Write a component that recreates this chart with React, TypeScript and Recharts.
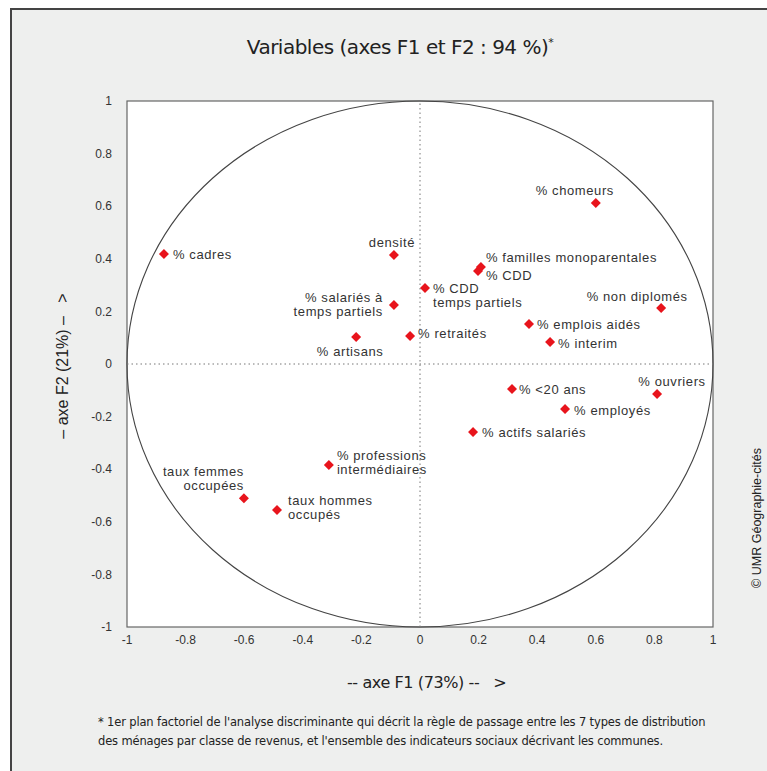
import { ReferenceArea, ReferenceLine, Scatter, ScatterChart, XAxis, YAxis } from "recharts";

// variables of the discriminant analysis (line breaks = label wrapping)
const variables = [
  "% chomeurs",
  "% cadres",
  "densité",
  "% familles monoparentales",
  "% CDD",
  "% CDD\ntemps partiels",
  "% salariés à\ntemps partiels",
  "% retraités",
  "% artisans",
  "% non diplomés",
  "% emplois aidés",
  "% interim",
  "% <20 ans",
  "% ouvriers",
  "% employés",
  "% actifs salariés",
  "% professions\nintermédiaires",
  "taux femmes\noccupées",
  "taux hommes\noccupés",
];

const f1 = [0.6, -0.874, -0.089, 0.208, 0.198, 0.017, -0.089, -0.034, -0.218, 0.823, 0.372, 0.444, 0.314, 0.809, 0.495, 0.181, -0.311, -0.601, -0.488];
const f2 = [0.612, 0.418, 0.414, 0.369, 0.354, 0.289, 0.224, 0.106, 0.103, 0.213, 0.152, 0.084, -0.095, -0.114, -0.171, -0.259, -0.384, -0.51, -0.555];

const ticks = [-1, -0.8, -0.6, -0.4, -0.2, 0, 0.2, 0.4, 0.6, 0.8, 1];

const points = variables.map((name, i) => ({ name, x: f1[i], y: f2[i] }));

// where each label sits relative to its marker
const labelPos: Record<string, { dx: number; dy: number; anchor: "start" | "middle" | "end" }> = {
  "% chomeurs": { dx: -21, dy: -13, anchor: "middle" },
  "% cadres": { dx: 9, dy: 0, anchor: "start" },
  "densité": { dx: -2, dy: -13, anchor: "middle" },
  "% familles monoparentales": { dx: 5, dy: -10, anchor: "start" },
  "% CDD": { dx: 8, dy: 4, anchor: "start" },
  "% CDD\ntemps partiels": { dx: 8, dy: 0, anchor: "start" },
  "% salariés à\ntemps partiels": { dx: -11, dy: -8.5, anchor: "end" },
  "% retraités": { dx: 8, dy: -3, anchor: "start" },
  "% artisans": { dx: -6, dy: 14, anchor: "middle" },
  "% non diplomés": { dx: -24, dy: -12, anchor: "middle" },
  "% emplois aidés": { dx: 8, dy: 0, anchor: "start" },
  "% interim": { dx: 8, dy: 1, anchor: "start" },
  "% <20 ans": { dx: 7, dy: 0, anchor: "start" },
  "% ouvriers": { dx: 15, dy: -13, anchor: "middle" },
  "% employés": { dx: 9, dy: 1, anchor: "start" },
  "% actifs salariés": { dx: 9, dy: 0, anchor: "start" },
  "% professions\nintermédiaires": { dx: 8, dy: -9.5, anchor: "start" },
  "taux femmes\noccupées": { dx: 0, dy: -27, anchor: "end" },
  "taux hommes\noccupés": { dx: 11, dy: -9.5, anchor: "start" },
};

const LINE = 14;

const Marker = (props: any) => {
  const { cx, cy, payload } = props;
  const pos = labelPos[payload.name] || { dx: 8, dy: 0, anchor: "start" };
  const lines = String(payload.name).split("\n");
  const s = 5;
  return (
    <g>
      <path d={`M${cx},${cy - s} L${cx + s},${cy} L${cx},${cy + s} L${cx - s},${cy} Z`} fill="#e8141c" />
      <text
        x={cx + pos.dx}
        y={cy + pos.dy}
        textAnchor={pos.anchor}
        dominantBaseline="central"
        fontFamily="'Liberation Sans', Arial, sans-serif"
        fontSize={13}
        letterSpacing={0.6}
        fill="#333"
      >
        {lines.map((l, i) => (
          <tspan key={i} x={cx + pos.dx} dy={i === 0 ? 0 : LINE}>
            {l}
          </tspan>
        ))}
      </text>
    </g>
  );
};

const PlotFrame = (props: any) => {
  const { x, y, width, height } = props;
  return (
    <g>
      <rect x={x} y={y} width={width} height={height} fill="#fff" stroke="#666" strokeWidth={1.2} />
      <ellipse cx={x + width / 2} cy={y + height / 2} rx={width / 2} ry={height / 2} fill="none" stroke="#444" strokeWidth={1.1} />
    </g>
  );
};

const fmt = (v: number) => String(v);

const tickStyle = { fill: "#333", fontSize: 12, fontFamily: "'Liberation Sans', Arial, sans-serif" };

const textFont = "'DejaVu Sans', sans-serif";

export default function App() {
  return (
    <div style={{ position: "absolute", left: 0, top: 0, width: 767, height: 771, background: "#fff", overflow: "hidden" }}>
      <div
        style={{
          position: "absolute",
          left: 10,
          top: 8,
          width: 800,
          height: 800,
          background: "#eeefee",
          borderLeft: "2px solid #444",
          borderTop: "2px solid #444",
        }}
      />
      <div
        style={{
          position: "absolute",
          left: 0,
          width: 800,
          top: 35,
          textAlign: "center",
          fontFamily: textFont,
          fontSize: 20,
          letterSpacing: -0.5,
          color: "#222",
        }}
      >
        Variables (axes F1 et F2 : 94 %)<sup style={{ fontSize: 11 }}>*</sup>
      </div>
      <div style={{ position: "absolute", left: 0, top: 0 }}>
        <ScatterChart width={767} height={771} margin={{ top: 101, right: 54, left: 87, bottom: 114 }}>
          <ReferenceArea x1={-1} x2={1} y1={-1} y2={1} ifOverflow="visible" shape={<PlotFrame />} />
          <ReferenceLine x={0} stroke="#777" strokeDasharray="1.5 3" />
          <ReferenceLine y={0} stroke="#777" strokeDasharray="1.5 3" />
          <XAxis
            type="number"
            dataKey="x"
            domain={[-1, 1]}
            ticks={ticks}
            tickFormatter={fmt}
            axisLine={false}
            tickLine={false}
            height={30}
            tick={tickStyle}
            interval={0}
          />
          <YAxis
            type="number"
            dataKey="y"
            domain={[-1, 1]}
            ticks={ticks}
            tickFormatter={fmt}
            axisLine={false}
            tickLine={false}
            width={40}
            tickMargin={9}
            tick={tickStyle}
            interval={0}
          />
          <Scatter data={points} shape={<Marker />} isAnimationActive={false} />
        </ScatterChart>
      </div>
      <div
        style={{
          position: "absolute",
          left: 347,
          top: 673,
          fontFamily: textFont,
          fontSize: 16,
          letterSpacing: -0.4,
          color: "#222",
          whiteSpace: "pre",
        }}
      >
        {"-- axe F1 (73%) --   >"}
      </div>
      <div
        style={{
          position: "absolute",
          left: 63,
          top: 366,
          transform: "translate(-50%, -50%) rotate(-90deg)",
          fontFamily: "'Liberation Sans', Arial, sans-serif",
          fontSize: 16,
          color: "#222",
          whiteSpace: "pre",
        }}
      >
        {"– axe F2 (21%) –   >"}
      </div>
      <div
        style={{
          position: "absolute",
          left: 757,
          top: 518,
          transform: "translate(-50%, -50%) rotate(-90deg)",
          fontFamily: "'Liberation Sans', Arial, sans-serif",
          fontSize: 12.5,
          color: "#222",
          whiteSpace: "pre",
        }}
      >
        © UMR Géographie-cités
      </div>
      <div
        style={{
          position: "absolute",
          left: 98,
          top: 713,
          fontFamily: textFont,
          fontSize: 11.5,
          letterSpacing: -0.15,
          lineHeight: "19px",
          color: "#222",
          whiteSpace: "pre",
        }}
      >
        {"* 1er plan factoriel de l'analyse discriminante qui décrit la règle de passage entre les 7 types de distribution\ndes ménages par classe de revenus, et l'ensemble des indicateurs sociaux décrivant les communes."}
      </div>
    </div>
  );
}
